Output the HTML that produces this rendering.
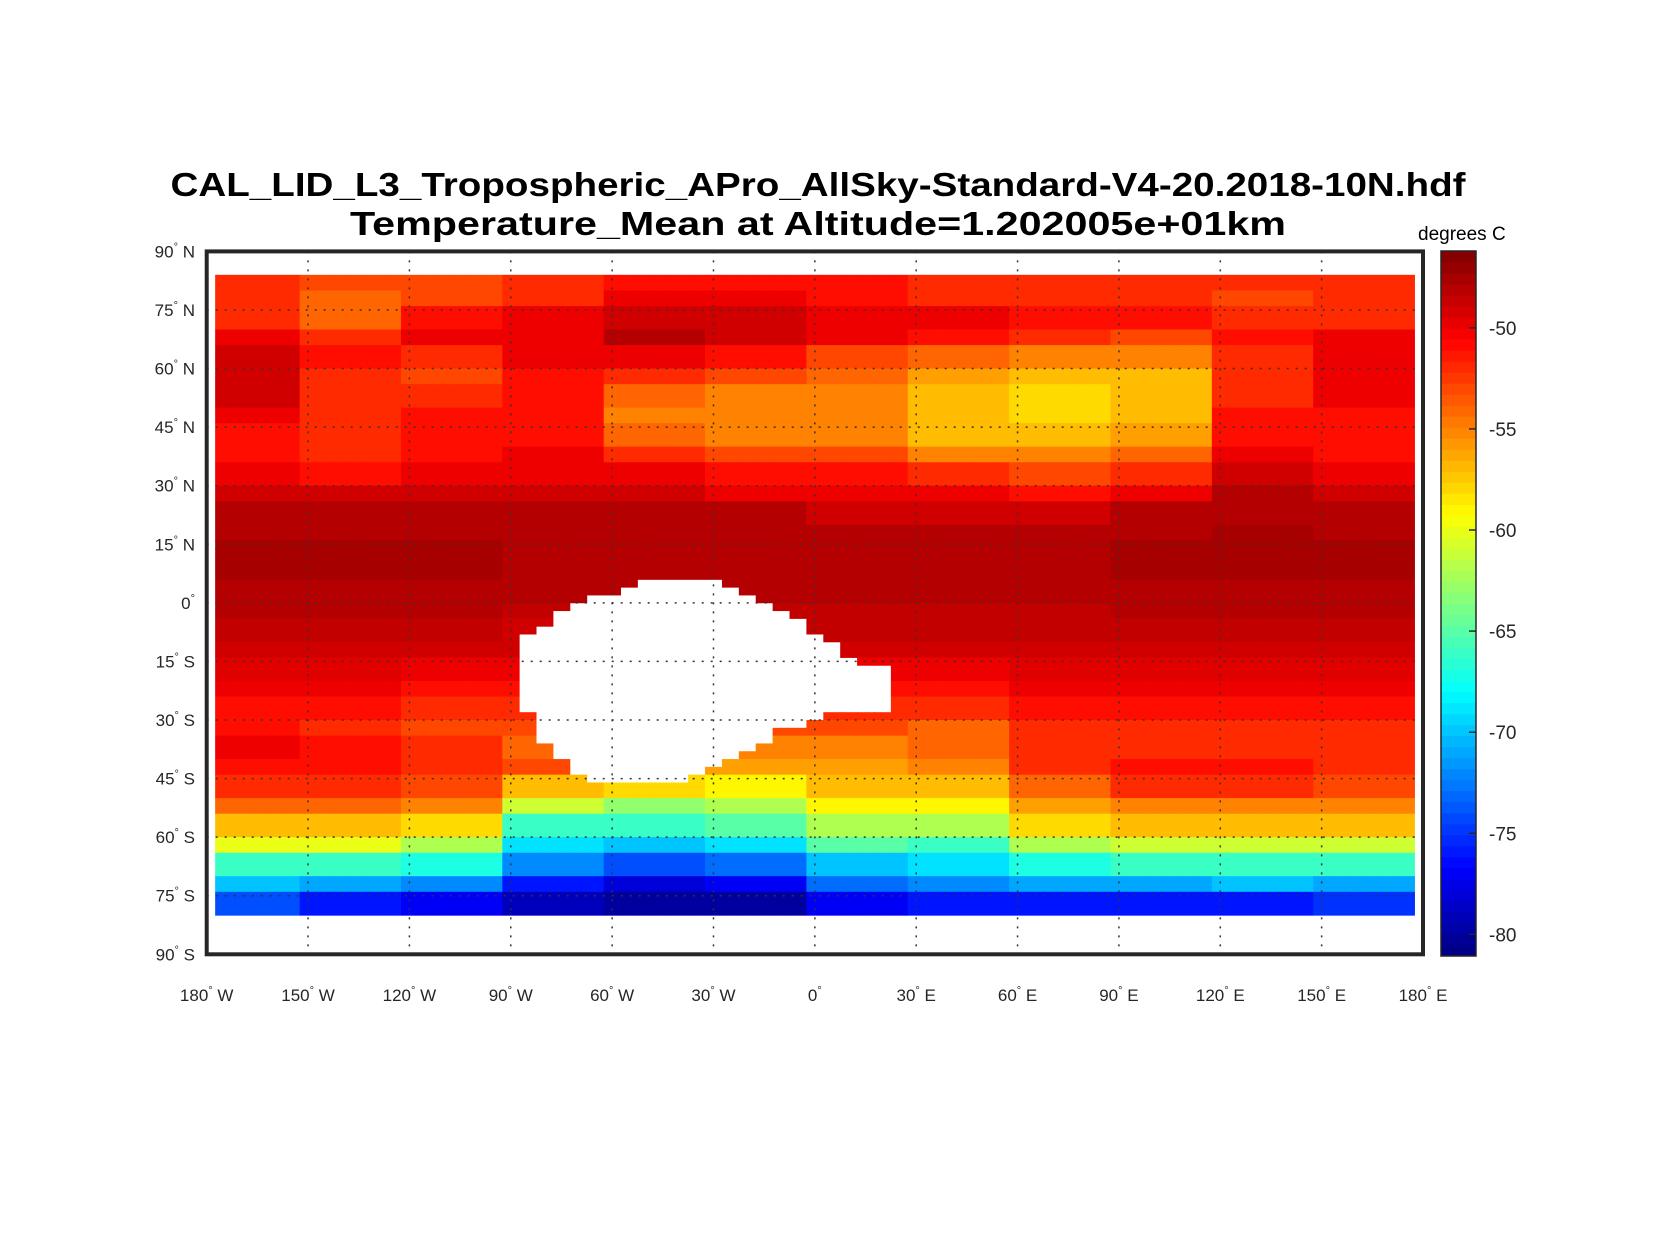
<!DOCTYPE html>
<html><head><meta charset="utf-8"><title>CAL_LID_L3 Temperature Mean</title>
<style>html,body{margin:0;padding:0;background:#fff}svg{display:block;font-family:"Liberation Sans",sans-serif}</style>
</head><body>
<svg id="chart" width="1667" height="1250" viewBox="0 0 1667 1250" xmlns="http://www.w3.org/2000/svg">
<rect width="1667" height="1250" fill="#fff"/>
<text x="818" y="196" text-anchor="middle" font-weight="bold" font-size="33" textLength="1295" lengthAdjust="spacingAndGlyphs">CAL_LID_L3_Tropospheric_APro_AllSky-Standard-V4-20.2018-10N.hdf</text>
<text x="818" y="235" text-anchor="middle" font-weight="bold" font-size="33" textLength="936" lengthAdjust="spacingAndGlyphs">Temperature_Mean at Altitude=1.202005e+01km</text>
<text x="1418" y="240" font-size="19">degrees C</text>
<g id="cells"></g>
<g id="grid"></g>
<rect x="206.7" y="251.4" width="1216.3" height="702.9" fill="none" stroke="#262626" stroke-width="4"/>
<g id="latlabels"></g>
<g id="lonlabels"></g>
<g id="cbar"></g>
</svg>
<script>
// Band values: 33 latitude bands of 5 deg (85N..80S) x 12 longitude groups of 30 deg (180W..180E)
const lonGroups = ["180W-150W","150W-120W","120W-90W","90W-60W","60W-30W","30W-0","0-30E","30E-60E","60E-90E","90E-120E","120E-150E","150E-180E"];
const bandTops = [85,80,75,70,65,60,55,50,45,40,35,30,25,20,15,10,5,0,-5,-10,-15,-20,-25,-30,-35,-40,-45,-50,-55,-60,-65,-70,-75];
const tempValues = [
[-52,-53,-53,-52,-51,-51,-51,-52,-52,-52,-52,-52],
[-52,-54,-53,-52,-50,-50,-51,-52,-52,-52,-53,-52],
[-52,-54,-51,-50,-49,-49,-50,-50,-51,-51,-52,-52],
[-50,-52,-50,-50,-48,-49,-50,-51,-52,-53,-51,-50],
[-49,-51,-52,-50,-50,-51,-53,-54,-55,-55,-52,-50],
[-49,-52,-53,-51,-52,-53,-54,-56,-57,-57,-52,-50],
[-49,-52,-52,-51,-54,-55,-55,-57,-58,-57,-52,-50],
[-50,-52,-51,-51,-55,-55,-55,-57,-58,-57,-51,-51],
[-51,-52,-51,-51,-54,-55,-55,-57,-57,-56,-51,-51],
[-51,-52,-51,-50,-52,-53,-53,-55,-55,-54,-50,-51],
[-50,-51,-50,-50,-50,-51,-51,-52,-53,-52,-49,-50],
[-49,-49,-49,-49,-49,-50,-50,-50,-51,-50,-48,-49],
[-48,-48,-48,-48,-48,-48,-49,-49,-49,-48,-48,-48],
[-48,-48,-48,-48,-48,-48,-48,-48,-48,-48,-47.5,-48],
[-47.5,-47.5,-47.5,-48,-48,-48,-48,-48,-48,-47.5,-47.5,-47.5],
[-47.5,-47.5,-47.5,-48,-48,-48,-48,-48,-48,-47.5,-47.5,-47.5],
[-48,-48,-48,-48,-48,-48,-48,-48,-48,-48,-48,-48],
[-48,-48,-48,-48.5,-48.5,-48.5,-48.5,-48.5,-48.5,-48,-48,-48],
[-48.5,-48.5,-48.5,-49,-49,-49,-48.5,-48.5,-48.5,-48.5,-48.5,-48.5],
[-49,-49,-49,-49,-49,-49,-49,-49,-49,-49,-49,-49],
[-49.5,-49.5,-50,-50,-50,-50,-50,-50,-49.5,-49.5,-49.5,-49.5],
[-50,-50,-51,-51,-51,-51,-51,-51,-50,-50,-50,-50],
[-51,-51,-52,-52,-52,-52,-52,-52,-51,-51,-51,-51],
[-51,-52,-53,-53,-53,-53,-53,-54,-52,-52,-52,-52],
[-50,-51,-52,-54,-55,-55,-55,-54,-52,-52,-52,-52],
[-51,-51,-52,-53,-55,-56,-56,-55,-52,-51,-51,-52],
[-52,-52,-53,-57,-58,-59,-57,-57,-54,-52,-52,-53],
[-54,-54,-55,-61,-63,-62,-59,-59,-56,-55,-55,-55],
[-57,-57,-58,-66,-66,-65,-62,-62,-58,-57,-57,-57],
[-60,-60,-62,-69,-70,-69,-65,-66,-62,-61,-61,-61],
[-66,-66,-67,-72,-74,-73,-70,-69,-67,-66,-66,-66],
[-70,-71,-72,-76,-78,-77,-73,-72,-71,-71,-70,-71],
[-74,-76,-77,-79,-80,-80,-77,-76,-76,-76,-76,-75]
];
// Missing-data region: [latTop, latBottom, lonLeft, lonRight]
const missingTops = [6,4,2,0,-2,-4,-6,-8,-10,-14,-16,-28,-30,-32,-36,-38,-40,-42,-44];
const missingBottoms = [4,2,0,-2,-4,-6,-8,-10,-14,-16,-28,-30,-32,-36,-38,-40,-42,-44,-46];
const missingLefts = [-52.5,-57.5,-67.5,-72.5,-77.5,-77.5,-82.5,-87.5,-87.5,-87.5,-87.5,-82.5,-82.5,-82.5,-77.5,-77.5,-72.5,-72.5,-67.5];
const missingRights = [-27.5,-22.5,-17.5,-12.5,-7.5,-2.5,-2.5,2.5,7.5,12.5,22.5,2.5,-2.5,-12.5,-17.5,-22.5,-27.5,-32.5,-37.5];
const cbarTicks = [-50,-55,-60,-65,-70,-75,-80];
const latTicks = [90,75,60,45,30,15,0,-15,-30,-45,-60,-75,-90];
const lonTicks = [-180,-150,-120,-90,-60,-30,0,30,60,90,120,150,180];
const cmin = -81.07, cmax = -46.2;

const NS = "http://www.w3.org/2000/svg";
const X0 = 206.7, X1 = 1423, Y0 = 251.4, Y1 = 954.3;
const xScale = lon => X0 + (lon + 180) * (X1 - X0) / 360;
const yScale = lat => Y0 + (90 - lat) * (Y1 - Y0) / 180;
function jet(v){
  let t = Math.max(0, Math.min(1, (v - cmin) / (cmax - cmin)));
  const c = a => Math.round(255 * Math.max(0, Math.min(1, 1.5 - Math.abs(4 * t - a))));
  return "rgb(" + c(3) + "," + c(2) + "," + c(1) + ")";
}
function mk(tag, attrs, parent){
  const el = document.createElementNS(NS, tag);
  for (const k in attrs) el.setAttribute(k, attrs[k]);
  parent.appendChild(el);
  return el;
}
function isMissing(lat, lon){
  for (let i = 0; i < missingTops.length; i++){
    if (lat < missingTops[i] && lat > missingBottoms[i] && lon > missingLefts[i] && lon < missingRights[i]) return true;
  }
  return false;
}
const cells = document.getElementById("cells");
for (let latTop = 84; latTop > -80; latTop -= 2){
  const latC = latTop - 1;
  const band = Math.min(bandTops.length - 1, Math.floor((85 - latC) / 5));
  for (let lonC = -175; lonC <= 175; lonC += 5){
    if (isMissing(latC, lonC)) continue;
    const g = Math.min(11, Math.floor((lonC + 180) / 30));
    const v = tempValues[band][g];
    const x = xScale(lonC - 2.5), y = yScale(latTop);
    const r = mk("rect", {x: x.toFixed(2), y: y.toFixed(2), width: (xScale(lonC + 2.5) - x + 0.4).toFixed(2), height: (yScale(latTop - 2) - y + 0.4).toFixed(2), fill: jet(v)}, cells);
    
    
  }
}
const grid = document.getElementById("grid");
lonTicks.slice(1, -1).forEach(lon => {
  const l = mk("line", {x1: xScale(lon), x2: xScale(lon), y1: Y0, y2: Y1, stroke: "#333", "stroke-width": 1.5, "stroke-dasharray": "2 7"}, grid);
  
  
});
latTicks.slice(1, -1).forEach(lat => {
  const l = mk("line", {x1: X0, x2: X1, y1: yScale(lat), y2: yScale(lat), stroke: "#333", "stroke-width": 1.5, "stroke-dasharray": "2 7"}, grid);
  
  
});
const latG = document.getElementById("latlabels");
latTicks.forEach(lat => {
  const t = mk("text", {x: 195, y: yScale(lat) + 6, "text-anchor": "end", "font-size": 17, fill: "#262626"}, latG);
  
  
  const a = Math.abs(lat);
  t.innerHTML = a + '<tspan font-size="11" dy="-7">°</tspan><tspan dy="7">' + (lat > 0 ? " N" : lat < 0 ? " S" : "") + '</tspan>';
});
const lonG = document.getElementById("lonlabels");
lonTicks.forEach(lon => {
  const t = mk("text", {x: xScale(lon), y: 1001, "text-anchor": "middle", "font-size": 17, fill: "#262626"}, lonG);
  
  
  const a = Math.abs(lon);
  t.innerHTML = a + '<tspan font-size="11" dy="-7">°</tspan><tspan dy="7">' + (lon < 0 ? " W" : lon > 0 ? " E" : "") + '</tspan>';
});
// colorbar
const cb = document.getElementById("cbar");
const CBX = 1441, CBW = 35, CBT = 251, CBB = 956;
const cbY = v => CBB - (v - cmin) / (cmax - cmin) * (CBB - CBT);
const nSteps = 64;
for (let i = 0; i < nSteps; i++){
  const v0 = cmin + (cmax - cmin) * i / nSteps, v1 = cmin + (cmax - cmin) * (i + 1) / nSteps;
  const r = mk("rect", {x: CBX, y: cbY(v1), width: CBW, height: cbY(v0) - cbY(v1) + 0.5, fill: jet((v0 + v1) / 2)}, cb);
  
  
}
const cbf = mk("rect", {x: CBX, y: CBT, width: CBW, height: CBB - CBT, fill: "none", stroke: "#262626", "stroke-width": 1.5}, cb);


cbarTicks.forEach(v => {
  const tk = mk("line", {x1: CBX + CBW - 7, x2: CBX + CBW, y1: cbY(v), y2: cbY(v), stroke: "#262626", "stroke-width": 1.5}, cb);
  
  
  const t = mk("text", {x: 1489, y: cbY(v) + 7, "font-size": 19, fill: "#262626"}, cb);
  
  
  t.textContent = String(v);
});
</script>
</body></html>
